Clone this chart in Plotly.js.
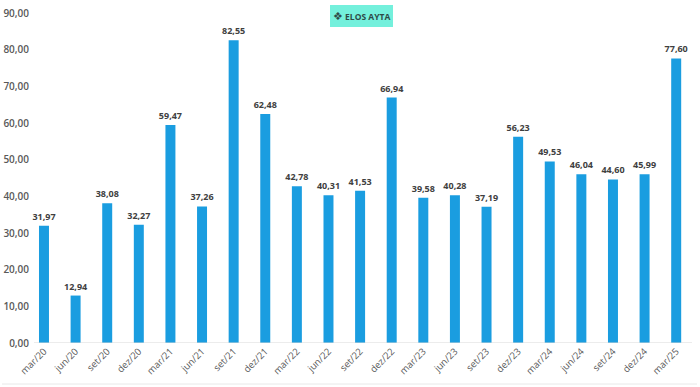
<!DOCTYPE html>
<html>
<head>
<meta charset="utf-8">
<script src="https://cdn.plot.ly/plotly-3.0.1.min.js"></script>
<style>html,body{margin:0;padding:0;background:#fff;}#chart{width:700px;height:387px;}</style>
</head>
<body>
<div id="chart"></div>
<script>
const categories = ["mar/20","jun/20","set/20","dez/20","mar/21","jun/21","set/21","dez/21","mar/22","jun/22","set/22","dez/22","mar/23","jun/23","set/23","dez/23","mar/24","jun/24","set/24","dez/24","mar/25"];
const values = [31.97,12.94,38.08,32.27,59.47,37.26,82.55,62.48,42.78,40.31,41.53,66.94,39.58,40.28,37.19,56.23,49.53,46.04,44.60,45.99,77.60];
const yTickValues = [0,10,20,30,40,50,60,70,80,90];
const logoText = "ELOS AYTA";

const trace = {
  type: "bar",
  x: categories,
  y: values,
  marker: {color: "#1a9de0"},
  texttemplate: "%{y:.2f}",
  textposition: "outside",
  constraintext: "none",
  cliponaxis: false,
  textfont: {family: "Open Sans, Liberation Sans, sans-serif", size: 9, color: "#404040", weight: 700},
  hoverinfo: "none"
};

const layout = {
  width: 700, height: 387,
  margin: {l: 34, r: 8, t: 13, b: 44},
  paper_bgcolor: "#ffffff",
  plot_bgcolor: "#ffffff",
  separators: ",.",
  bargap: 0.684,
  showlegend: false,
  xaxis: {
    type: "category",
    range: [-0.316, 20.5],
    tickangle: -45,
    showgrid: false,
    zeroline: false,
    showline: false,
    ticks: "",
    tickfont: {family: "Open Sans, Liberation Sans, sans-serif", size: 9.5, color: "#595959"},
    fixedrange: true
  },
  yaxis: {
    range: [0, 90],
    tickvals: yTickValues,
    tickformat: ".2f",
    showgrid: false,
    zeroline: false,
    showline: false,
    ticks: "",
    ticklabelstandoff: 4,
    tickfont: {family: "Open Sans, Liberation Sans, sans-serif", size: 10, color: "#595959", weight: 600},
    fixedrange: true
  },
  shapes: [
    {type: "line", xref: "paper", yref: "y", x0: 0, x1: 1, y0: 0, y1: 0, line: {color: "#d9d9d9", width: 1}},
    {type: "rect", xref: "paper", yref: "paper", x0: (330-34)/658, x1: (393-34)/658, y0: (343-27)/330, y1: (343-5)/330, fillcolor: "#74f0dc", line: {width: 0}, layer: "above"},
    {type: "line", xref: "paper", yref: "paper", x0: (2-34)/658, x1: (697-34)/658, y0: (343-384)/330, y1: (343-384)/330, line: {color: "#e8e8e8", width: 1}}
  ],
  annotations: [
    {xref: "paper", yref: "paper", x: (361.5-34)/658, y: (343-16)/330, text: "<span style='font-size:11px'>❖</span> <b>" + logoText + "</b>", showarrow: false,
     font: {family: "Open Sans, DejaVu Sans, sans-serif", size: 8.5, color: "#2e4a48"}, xanchor: "center", yanchor: "middle"}
  ]
};

Plotly.newPlot("chart", [trace], layout, {displayModeBar: false, staticPlot: true});
</script>
</body>
</html>
